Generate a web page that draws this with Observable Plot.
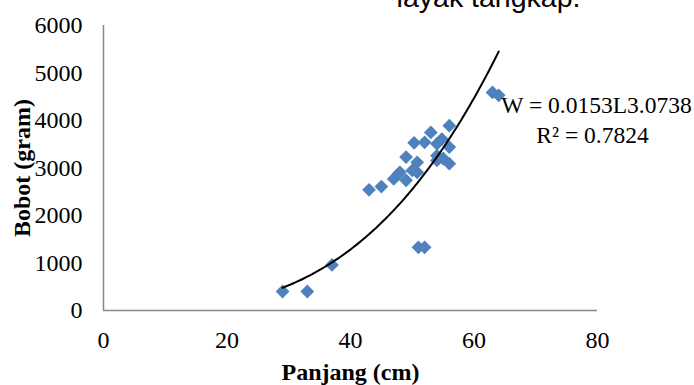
<!DOCTYPE html>
<html>
<head>
<meta charset="utf-8">
<script src="https://cdn.jsdelivr.net/npm/d3@7"></script>
<script src="https://cdn.jsdelivr.net/npm/@observablehq/plot@0.6"></script>
<style>
  html, body { margin: 0; padding: 0; background: #fff; }
  #chart svg { display: block; }
</style>
</head>
<body>
<div id="chart"></div>
<script>
// Data
const panjang = [29, 33, 37, 43, 45, 47, 47.8, 48, 49, 49, 50, 50.3, 50.8, 50.8, 51, 52, 52, 53, 54, 54, 54, 54.8, 55, 56, 56, 56, 63, 64];
const bobot   = [400, 400, 960, 2540, 2610, 2770, 2880, 2910, 2740, 3230, 2950, 3530, 3120, 2910, 1330, 1330, 3540, 3750, 3510, 3160, 3260, 3610, 3200, 3890, 3440, 3090, 4590, 4530];

// Trendline as printed on the chart: W = 0.0153 L^3.0738 (R² = 0.7824)
const coefA = 0.0153;
const coefB = 3.0738;
const trendFrom = 29;
const trendTo = 64;

const xTicks = [0, 20, 40, 60, 80];
const yTicks = [0, 1000, 2000, 3000, 4000, 5000, 6000];

const xLabel = "Panjang (cm)";
const yLabel = "Bobot (gram)";
const eqLabel = "W = 0.0153L3.0738";
const r2Label = "R² = 0.7824";
const topText = "layak tangkap.";

const points = panjang.map((p, i) => ({p, w: bobot[i]}));
const trend = d3.range(trendFrom, trendTo + 0.001, 0.25).map(L => ({p: L, w: coefA * Math.pow(L, coefB)}));

const serif = "'Liberation Serif', 'Times New Roman', serif";

const chart = Plot.plot({
  width: 694,
  height: 385,
  marginTop: 25,
  marginBottom: 75,
  marginLeft: 103,
  marginRight: 97,
  style: {fontFamily: serif, fontSize: "24px", background: "#fff", color: "#000"},
  x: {domain: [0, 80]},
  y: {domain: [0, 6000]},
  marks: [
    Plot.ruleX([0], {y1: 0, y2: 6000, stroke: "#868686", strokeWidth: 1.5}),
    Plot.ruleY([0], {x1: 0, x2: 80, stroke: "#868686", strokeWidth: 1.5}),
    Plot.axisX({ticks: xTicks, tickSize: 0, tickPadding: 20, fontSize: 24, fontFamily: serif, label: null, tickFormat: d => String(d)}),
    Plot.axisY({ticks: yTicks, tickSize: 0, tickPadding: 21, fontSize: 24, fontFamily: serif, label: null, tickFormat: d => String(d)}),
    Plot.dot(points, {x: "p", y: "w", symbol: "diamond2", r: 6.2, fill: "#4F81BD", stroke: "none"}),
    Plot.line(trend, {x: "p", y: "w", stroke: "#000", strokeWidth: 2, curve: "linear"}),
    Plot.text([eqLabel], {frameAnchor: "top-left", dx: 493, dy: 79.5, textAnchor: "middle", lineAnchor: "middle", fontSize: 23.5, fontFamily: serif, fill: "#000"}),
    Plot.text([r2Label], {frameAnchor: "top-left", dx: 489, dy: 109.5, textAnchor: "middle", lineAnchor: "middle", fontSize: 23.5, fontFamily: serif, fill: "#000"}),
    Plot.text([xLabel], {frameAnchor: "bottom", dy: 62, textAnchor: "middle", lineAnchor: "middle", fontSize: 24, fontWeight: "bold", fontFamily: serif, fill: "#000"}),
    Plot.text([yLabel], {frameAnchor: "left", dx: -81, rotate: -90, textAnchor: "middle", lineAnchor: "middle", fontSize: 24, fontWeight: "bold", fontFamily: serif, fill: "#000"}),
    Plot.text([topText], {frameAnchor: "top-left", dx: 385, dy: -27.6, textAnchor: "middle", lineAnchor: "middle", fontSize: 28.5, fontFamily: "'Liberation Sans', Arial, sans-serif", fill: "#000"})
  ]
});

document.getElementById("chart").appendChild(chart);
</script>
</body>
</html>
